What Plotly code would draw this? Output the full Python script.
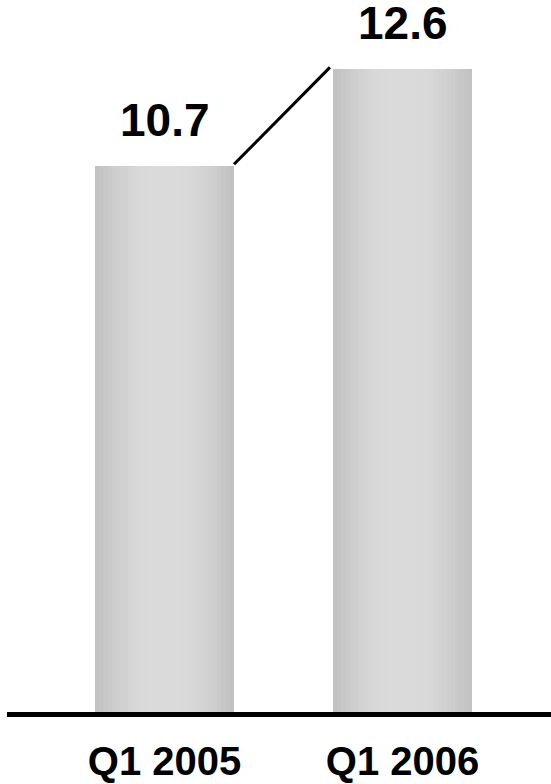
import plotly.graph_objects as go
import numpy as np

categories = ["Q1 2005", "Q1 2006"]
values = [10.7, 12.6]
value_labels = ["10.7", "12.6"]

FONT = "Arial, 'Liberation Sans', sans-serif"
BAR_W = 0.584

fig = go.Figure()

# horizontal gradient via overlaid bars of decreasing width
n = 14
edge = np.array([0xC2, 0xC2, 0xC2])
mid = np.array([0xDA, 0xDA, 0xDA])
for i in range(n):
    t = i / (n - 1)
    c = edge + (mid - edge) * np.sin(t * np.pi / 2)
    w = BAR_W * (1 - 0.85 * i / n)
    fig.add_trace(go.Bar(
        x=[0, 1], y=values, width=w,
        marker=dict(color="rgb(%d,%d,%d)" % tuple(c.astype(int)), line=dict(width=0)),
        hoverinfo="skip", showlegend=False,
    ))

# connector line between bar tops
dy = 0.04
fig.add_trace(go.Scatter(
    x=[0 + BAR_W / 2, 1 - BAR_W / 2 - 0.013],
    y=[values[0] + dy, values[1] + dy],
    mode="lines", line=dict(color="black", width=3),
    hoverinfo="skip", showlegend=False,
))

for i, (v, lab) in enumerate(zip(values, value_labels)):
    fig.add_annotation(x=i, y=v, text="<b>%s</b>" % lab, showarrow=False,
                       yanchor="bottom", yshift=18,
                       font=dict(family=FONT, size=46, color="black"))

fig.update_layout(
    width=551, height=784,
    margin=dict(l=7, r=0, t=0, b=72),
    paper_bgcolor="white", plot_bgcolor="white",
    barmode="overlay", bargap=0,
    xaxis=dict(
        range=[-0.662, 1.624], tickmode="array", tickvals=[0, 1],
        ticktext=["<b>%s</b>" % c for c in categories],
        showgrid=False, zeroline=False, showline=True, linecolor="black", linewidth=5,
        ticks="", ticklabelstandoff=10, automargin=False,
        tickfont=dict(family=FONT, size=40, color="black"),
    ),
    yaxis=dict(range=[0, 13.96], visible=False, showgrid=False, zeroline=False,
               automargin=False),
)

fig.write_html("out.html")
